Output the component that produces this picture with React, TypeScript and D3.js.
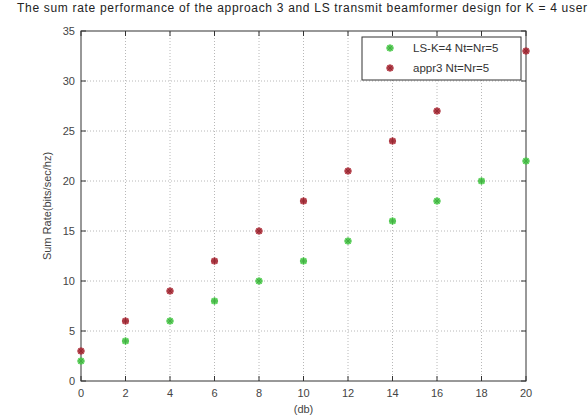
import React, { useEffect, useRef } from 'react';
import * as d3 from 'd3';

// values
const snr = [0, 2, 4, 6, 8, 10, 12, 14, 16, 18, 20];
const lsRate = [2, 4, 6, 8, 10, 12, 14, 16, 18, 20, 22];
const appr3Rate = [3, 6, 9, 12, 15, 18, 21, 24, 27, null, 33];
const xTicks = [0, 2, 4, 6, 8, 10, 12, 14, 16, 18, 20];
const yTicks = [0, 5, 10, 15, 20, 25, 30, 35];
const legendLabels = ['LS-K=4 Nt=Nr=5', 'appr3 Nt=Nr=5'];
const seriesColors = ['#52d852', '#b8323e'];

const W = 588;
const H = 419;
const m = { left: 81, right: 62, top: 31, bottom: 38 };

export default function App() {
  const ref = useRef<SVGSVGElement>(null);

  useEffect(() => {
    const svg = d3.select(ref.current);
    svg.selectAll('*').remove();
    const font = 'Liberation Sans, Arial, sans-serif';

    const x = d3.scaleLinear().domain([0, 20]).range([m.left, W - m.right]);
    const y = d3.scaleLinear().domain([0, 35]).range([H - m.bottom, m.top]);
    const [x0, x1] = x.range();
    const [y0, y1] = y.range();

    svg.append('rect').attr('width', W).attr('height', H).attr('fill', '#fff');

    // grid
    const grid = svg.append('g').attr('stroke', '#b8b8b8').attr('stroke-dasharray', '1,2');
    grid.selectAll('.gx').data(xTicks.slice(1, -1)).join('line')
      .attr('x1', d => x(d)).attr('x2', d => x(d)).attr('y1', y0).attr('y2', y1);
    grid.selectAll('.gy').data(yTicks.slice(1, -1)).join('line')
      .attr('y1', d => y(d)).attr('y2', d => y(d)).attr('x1', x0).attr('x2', x1);

    // ticks (inward, all four sides)
    const tk = svg.append('g').attr('stroke', '#333').attr('stroke-width', 1);
    xTicks.forEach(d => {
      tk.append('line').attr('x1', x(d)).attr('x2', x(d)).attr('y1', y0).attr('y2', y0 - 5);
      tk.append('line').attr('x1', x(d)).attr('x2', x(d)).attr('y1', y1).attr('y2', y1 + 5);
    });
    yTicks.forEach(d => {
      tk.append('line').attr('y1', y(d)).attr('y2', y(d)).attr('x1', x0).attr('x2', x0 + 5);
      tk.append('line').attr('y1', y(d)).attr('y2', y(d)).attr('x1', x1).attr('x2', x1 - 5);
    });

    svg.append('rect').attr('x', x0).attr('y', y1).attr('width', x1 - x0).attr('height', y0 - y1)
      .attr('fill', 'none').attr('stroke', '#333');

    // tick labels
    svg.append('g').selectAll('text').data(xTicks).join('text')
      .attr('x', d => x(d)).attr('y', y0 + 16).attr('text-anchor', 'middle')
      .attr('font-family', font).attr('font-size', 11).attr('fill', '#444').text(d => d);
    svg.append('g').selectAll('text').data(yTicks).join('text')
      .attr('x', x0 - 6).attr('y', d => y(d) + 4).attr('text-anchor', 'end')
      .attr('font-family', font).attr('font-size', 11).attr('fill', '#444').text(d => d);

    // titles
    svg.append('text').attr('x', 17).attr('y', 12)
      .attr('textLength', 570).attr('lengthAdjust', 'spacing')
      .attr('font-family', font).attr('font-size', 12).attr('fill', '#222')
      .text('The sum rate performance of the approach 3 and LS transmit beamformer design for K = 4 user');
    svg.append('text').attr('x', (x0 + x1) / 2).attr('y', 413).attr('text-anchor', 'middle')
      .attr('font-family', font).attr('font-size', 11).attr('fill', '#444').text('(db)');
    svg.append('text').attr('transform', `translate(51,${(y0 + y1) / 2}) rotate(-90)`)
      .attr('text-anchor', 'middle').attr('font-family', font).attr('font-size', 11)
      .attr('fill', '#444').text('Sum Rate(bits/sec/hz)');

    // markers
    const star = (g: any, cx: number, cy: number, c: string) => {
      g.append('circle').attr('cx', cx).attr('cy', cy).attr('r', 3.6).attr('fill', c).attr('opacity', 0.85);
      const s = 3.5;
      g.append('path')
        .attr('d', `M${cx - s},${cy}H${cx + s}M${cx},${cy - s}V${cy + s}M${cx - s * 0.7},${cy - s * 0.7}L${cx + s * 0.7},${cy + s * 0.7}M${cx - s * 0.7},${cy + s * 0.7}L${cx + s * 0.7},${cy - s * 0.7}`)
        .attr('stroke', d3.color(c)!.darker(0.6).toString()).attr('stroke-width', 1);
    };
    const pts = svg.append('g');
    [lsRate, appr3Rate].forEach((vals, i) => {
      vals.forEach((v, j) => {
        if (v != null) star(pts, x(snr[j]), y(v), seriesColors[i]);
      });
    });

    // legend
    const lg = svg.append('g');
    lg.append('rect').attr('x', 362).attr('y', 37).attr('width', 159).attr('height', 43)
      .attr('fill', '#fff').attr('stroke', '#333');
    legendLabels.forEach((t, i) => {
      const ly = 48 + i * 20;
      star(lg, 390, ly, seriesColors[i]);
      lg.append('text').attr('x', 413).attr('y', ly + 4).attr('font-family', font)
        .attr('font-size', 11.5).attr('fill', '#333').text(t);
    });
  }, []);

  return (
    <svg ref={ref} width={W} height={H}
      style={{ position: 'absolute', left: 0, top: 0, display: 'block' }} />
  );
}
